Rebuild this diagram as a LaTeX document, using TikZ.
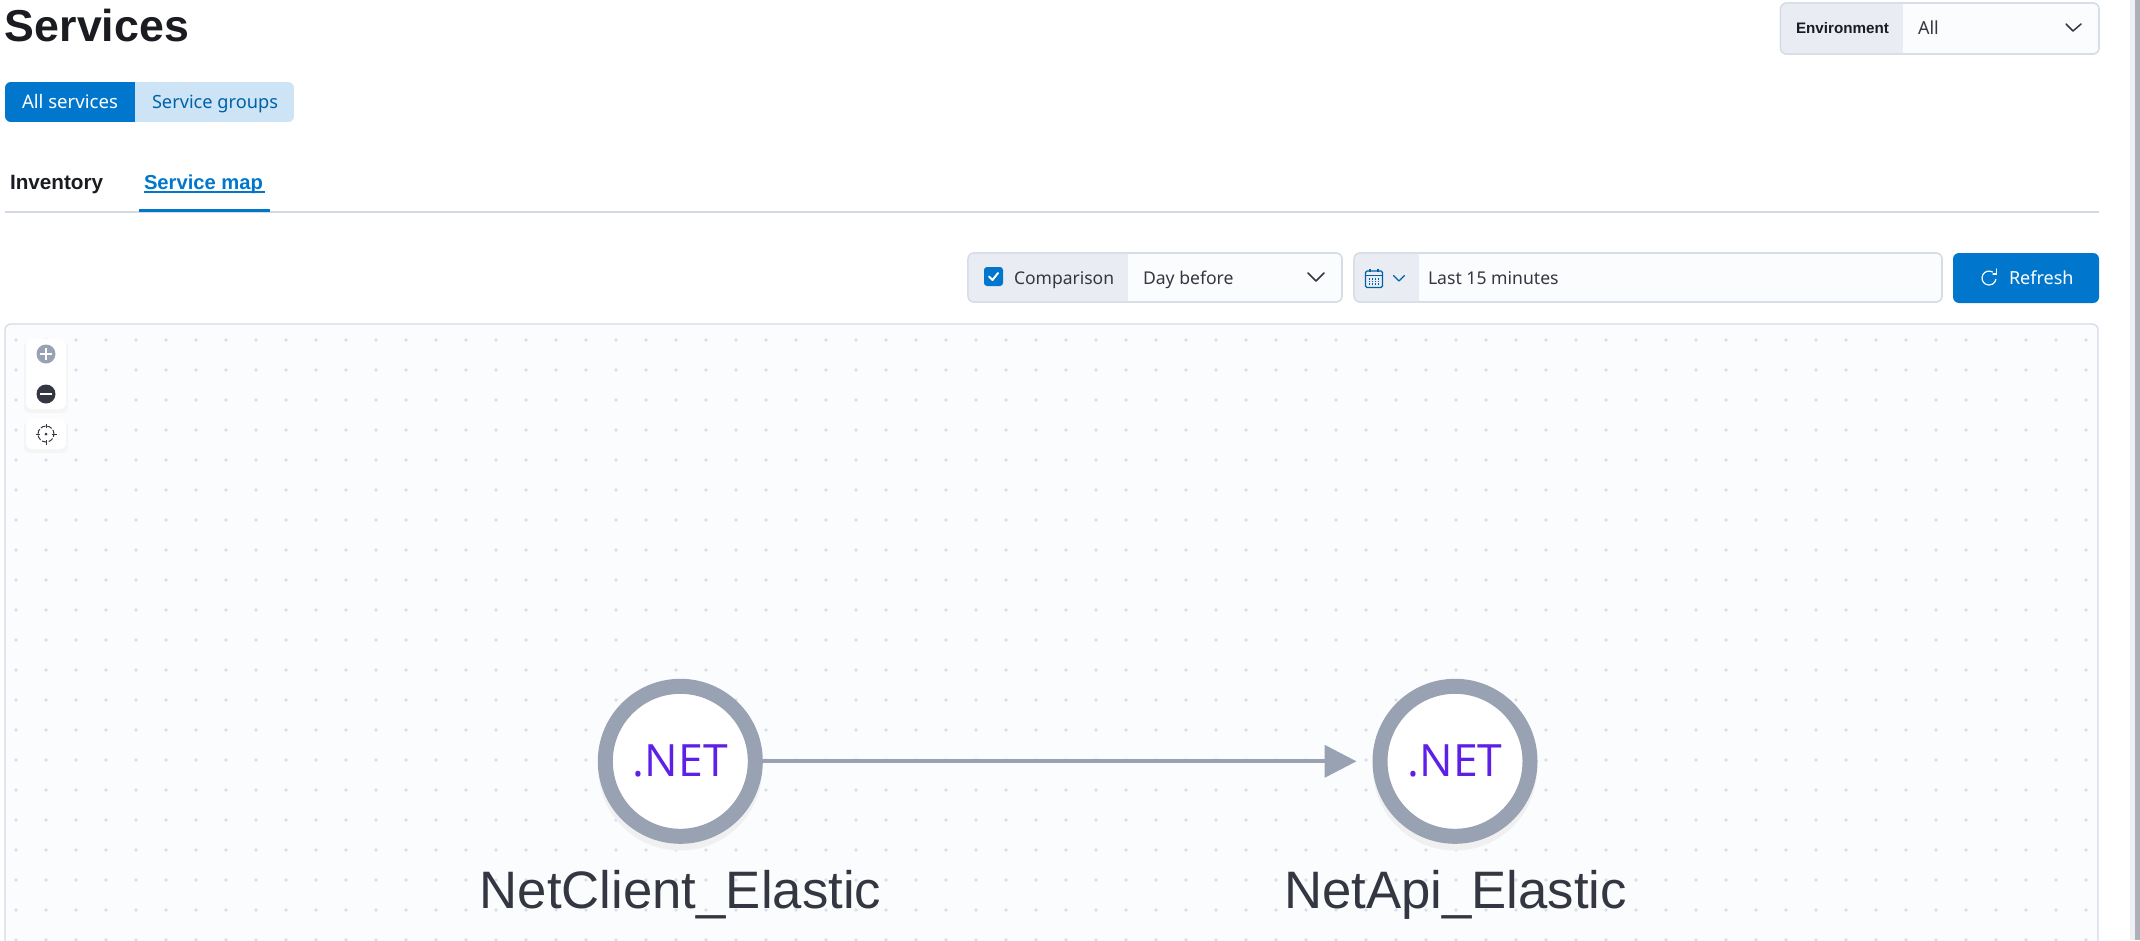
\documentclass[tikz,border=0pt]{standalone}
\usepackage{fontspec}
\setmainfont{Noto Sans}
\newfontfamily\arialf{Liberation Sans}
\newfontfamily\netf{Open Sans}
\usetikzlibrary{arrows.meta}
\definecolor{ink}{HTML}{1A1C21}
\definecolor{soft}{HTML}{343741}
\definecolor{brand}{HTML}{0077CC}
\definecolor{brandlt}{HTML}{CCE4F5}
\definecolor{branddk}{HTML}{0061A6}
\definecolor{edge}{HTML}{D3DAE6}
\definecolor{prep}{HTML}{E9EDF3}
\definecolor{fieldbg}{HTML}{FBFCFD}
\definecolor{ringc}{HTML}{98A2B3}
\definecolor{netc}{HTML}{5E1FE6}
\definecolor{dotc}{HTML}{D9DEE8}
\definecolor{scrolld}{HTML}{AEB0B8}
\definecolor{scrolll}{HTML}{EFF0F3}
\tikzset{
  txt/.style={anchor=base west,inner sep=0pt,outer sep=0pt},
  chev/.style={line width=1.5pt,line cap=round,line join=round,draw=soft},
  fieldbox/.style={draw=edge,line width=1.2pt,rounded corners=6pt,fill=fieldbg},
  svc/.style={circle,draw=ringc,line width=15pt,fill=white,minimum size=150pt,inner sep=0pt,outer sep=7.5pt,text=netc,font=\netf\fontsize{44.5}{45}\selectfont},
  svclabel/.style={anchor=base,inner sep=0pt,text=soft,font=\arialf\fontsize{52.7}{53}\selectfont},
  toolbox/.style={fill=white,rounded corners=6pt},
}
\begin{document}
\begin{tikzpicture}[x=1pt,y=-1pt]
\useasboundingbox (0,0) rectangle (2140,940);
\fill[white] (0,0) rectangle (2140,940);
% scrollbar
\fill[scrolll] (2130,0) rectangle (2135,940);
\fill[scrolld] (2135,0) rectangle (2140,940);
% title
\node[txt,text=ink,font=\arialf\bfseries\fontsize{44.7}{45}\selectfont] (title) at (5,41) {Services};
% environment
\draw[fieldbox] (1780.5,3) rectangle (2099,54);
\begin{scope}
\clip[rounded corners=6pt] (1780.5,3) rectangle (2099,54);
\fill[prep] (1780.5,3) rectangle (1903,54);
\end{scope}
\draw[edge,line width=1.2pt,rounded corners=6pt] (1780.5,3) rectangle (2099,54);
\node[txt,text=ink,font=\arialf\bfseries\fontsize{15.2}{16}\selectfont] (envlabel) at (1796,33) {Environment};
\node[txt,text=soft,font=\fontsize{18}{18}\selectfont] (envall) at (1918,34) {All};
\draw[chev] (2066,24) -- (2073,31) -- (2081,24);
% group buttons
\begin{scope}
\clip[rounded corners=6pt] (5,82) rectangle (294,122);
\fill[brandlt] (5,82) rectangle (294,122);
\fill[brand] (5,82) rectangle (135,122);
\end{scope}
\node[txt,text=white,font=\fontsize{18.6}{18}\selectfont] (allsvc) at (22,108) {All services};
\node[txt,text=branddk,font=\fontsize{18.2}{18}\selectfont] (svcgroups) at (152,108) {Service groups};
% tabs
\node[txt,text=ink,font=\arialf\bfseries\fontsize{20.7}{21}\selectfont] (inventory) at (10,189) {Inventory};
\node[txt,text=brand,font=\arialf\bfseries\fontsize{20.2}{21}\selectfont] (svcmap) at (144,189) {Service map};
\fill[brand] (144,191) rectangle (265,193);
\draw[edge,line width=1.2pt] (5,212) -- (2099,212);
\fill[brand] (139,209) rectangle (270,212);
% comparison
\draw[fieldbox] (968,253) rectangle (1342,302);
\begin{scope}
\clip[rounded corners=6pt] (968,253) rectangle (1342,302);
\fill[prep] (968,253) rectangle (1128,302);
\end{scope}
\draw[edge,line width=1.2pt,rounded corners=6pt] (968,253) rectangle (1342,302);
\fill[brand,rounded corners=3pt] (984,267) rectangle (1003,286);
\draw[white,line width=2pt,line cap=round,line join=round] (989,276.5) -- (992.5,280) -- (998,273);
\node[txt,text=soft,font=\fontsize{17.5}{18}\selectfont] (cmplabel) at (1014,284) {Comparison};
\node[txt,text=soft,font=\fontsize{17.6}{18}\selectfont] (cmpval) at (1143,284) {Day before};
\draw[chev] (1308,273) -- (1316,281) -- (1324,273);
% date
\draw[fieldbox] (1354,253) rectangle (1942,302);
\begin{scope}
\clip[rounded corners=6pt] (1354,253) rectangle (1942,302);
\fill[prep] (1354,253) rectangle (1419,302);
\end{scope}
\draw[edge,line width=1.2pt,rounded corners=6pt] (1354,253) rectangle (1942,302);
\draw[branddk,line width=1.3pt,rounded corners=1.5pt] (1365.5,271) rectangle (1382.5,287.5);
\draw[branddk,line width=1.3pt] (1365.5,275.5) -- (1382.5,275.5) (1370,268.5) -- (1370,272) (1378,268.5) -- (1378,272);
\foreach \cx in {1369.5,1372.5,1375.5,1378.5} \foreach \cy in {279,281.5,284} \fill[branddk] (\cx-0.6,\cy-0.6) rectangle (\cx+0.6,\cy+0.6);
\draw[chev,draw=branddk,line width=1.3pt] (1393.5,275.5) -- (1399,281) -- (1404.5,275.5);
\node[txt,text=soft,font=\fontsize{17.6}{18}\selectfont] (datelabel) at (1428,284) {Last 15 minutes};
% refresh
\fill[brand,rounded corners=6pt] (1953,253) rectangle (2099,303);
\draw[white,line width=1.2pt,line cap=round] (1992.5,272) arc[start angle=-60,end angle=-350,radius=7];
\draw[white,line width=1.2pt,line cap=round] (1996.5,269) -- (1996.5,274) -- (1993,274);
\node[txt,text=white,font=\fontsize{18}{18}\selectfont] (refresh) at (2009,284) {Refresh};
% map panel
\path[fill=fieldbg,rounded corners=6pt] (5,960) -- (5,324) -- (2098,324) -- (2098,960) -- cycle;
\draw[edge,line width=1.2pt,rounded corners=6pt] (5,960) -- (5,324) -- (2098,324) -- (2098,960);
\foreach \dx in {16,46,...,2086} \foreach \dy in {340,370,...,940} \fill[dotc] (\dx,\dy) circle[radius=1.8pt];
% zoom controls
\fill[black!4,rounded corners=6pt] (24,341) rectangle (68,413);
\fill[black!4,rounded corners=6pt] (24,421) rectangle (68,453);
\fill[toolbox] (26,339) rectangle (66,409);
\fill[toolbox] (26,419) rectangle (66,449);
\fill[ringc] (46,354) circle[radius=9.5];
\draw[white,line width=1.4pt] (40,354) -- (52,354) (46,348) -- (46,360);
\fill[soft] (46,394) circle[radius=9.5];
\draw[white,line width=1.6pt] (40,394) -- (52,394);
\draw[soft,line width=1pt,dash pattern=on 5pt off 1.8pt,dash phase=2pt] (46,434) circle[radius=8];
\draw[soft,line width=1pt] (46,423.5) -- (46,428) (46,440) -- (46,444.5) (35.5,434) -- (40,434) (52,434) -- (56.5,434);
\fill[soft] (46,434) circle[radius=1.5];
% services
\fill[black!6] (680.3,768.5) circle[radius=82];
\fill[black!6] (1455,768.5) circle[radius=82];
\node[svc] (client) at (680.3,761.3) {.NET};
\node[svc] (api) at (1455,761.3) {.NET};
\node[svclabel] (clientl) at (680.5,908) {NetClient\_Elastic};
\node[svclabel] (apil) at (1455.5,908) {NetApi\_Elastic};
\draw[ringc,line width=4pt,-{Triangle[length=32pt,width=32pt]},shorten >=16pt] (client) -- (api);
\end{tikzpicture}
\end{document}
